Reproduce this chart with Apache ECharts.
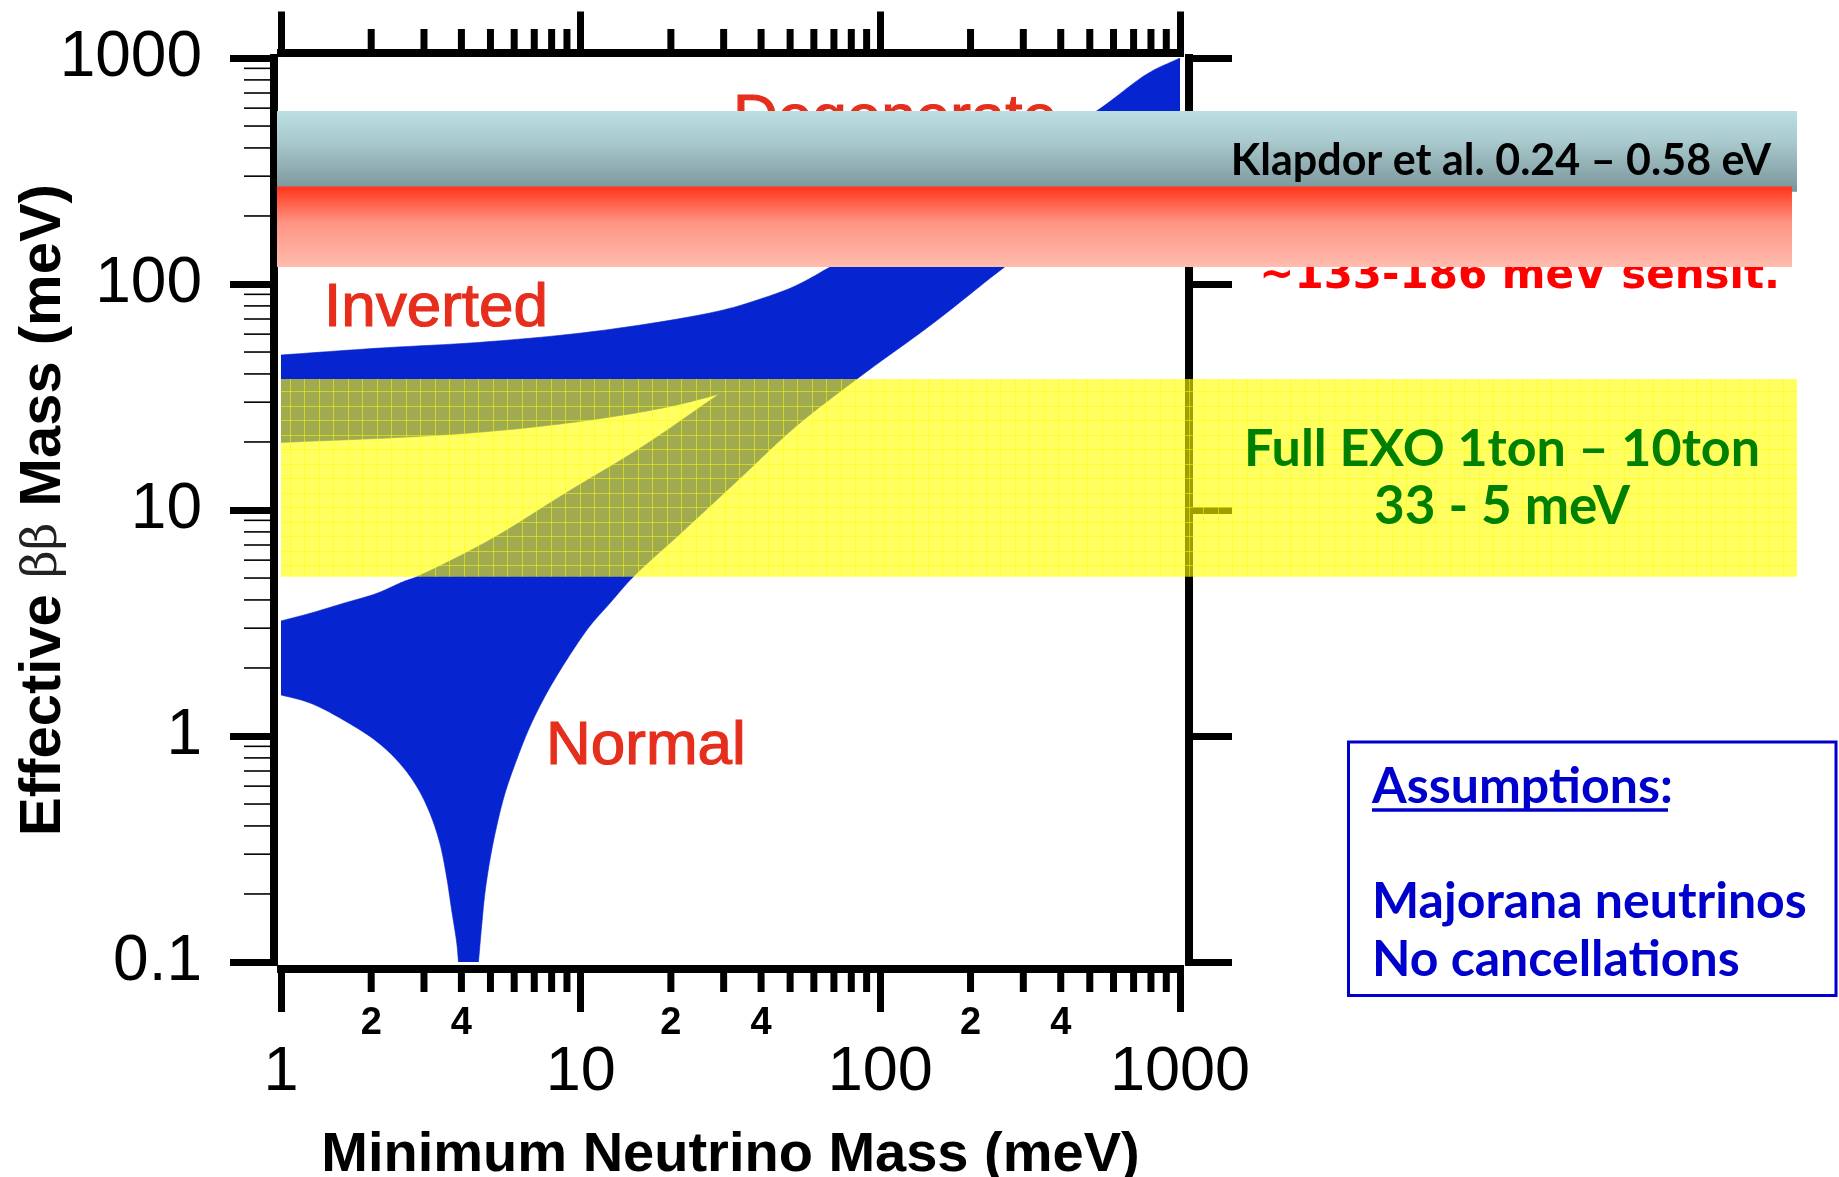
<!DOCTYPE html>
<html>
<head>
<meta charset="utf-8">
<script src="https://cdn.jsdelivr.net/npm/echarts@6/dist/echarts.min.js"></script>
<style>
html,body{margin:0;padding:0;background:#ffffff;}
#chart{width:1839px;height:1177px;}
</style>
</head>
<body>
<div id="chart"></div>
<script>
// ---------------- data (meV) ----------------
const xMajorTicks = [1, 10, 100, 1000];
const yMajorTicks = [0.1, 1, 10, 100, 1000];
const xMinorTicks = [2,3,4,5,6,7,8,9,20,30,40,50,60,70,80,90,200,300,400,500,600,700,800,900];
const yMinorTicks = [0.2,0.3,0.4,0.5,0.6,0.7,0.8,0.9,2,3,4,5,6,7,8,9,20,30,40,50,60,70,80,90,200,300,400,500,600,700,800,900];
const xMinorLabelValues = [2, 4, 20, 40, 200, 400];
const xMinorLabelTexts = ['2', '4', '2', '4', '2', '4'];

// upper boundary of the allowed region (inverted / degenerate)
const upperEdgeM = [1, 2.06, 4.97, 12, 29, 40, 52, 68, 100, 150, 300, 527, 782, 1000];
const upperEdgeV = [48.5, 51.9, 55.6, 62.5, 76, 86, 98, 119, 160, 220, 370, 583, 855, 1000];
// lower boundary of the normal hierarchy band (with the cancellation cusp)
const normalLowM = [1, 1.25, 1.61, 2.09, 2.49, 2.84, 3.14, 3.39, 3.57, 3.71, 3.86, 3.91, 4.56, 4.67, 4.79, 4.98, 5.24, 5.59, 6.11, 6.77, 7.7, 8.98, 10.7, 12.5, 15, 21.6, 33.6, 52.2, 85.5, 150, 260, 500, 1000];
const normalLowV = [1.52, 1.40, 1.18, 0.944, 0.757, 0.597, 0.455, 0.335, 0.238, 0.17, 0.121, 0.1, 0.1, 0.143, 0.201, 0.283, 0.397, 0.557, 0.783, 1.10, 1.545, 2.17, 3.05, 3.86, 5.07, 7.9, 13.6, 23.4, 38.9, 67, 119, 225, 450];
// upper boundary of the normal band (up to where it meets the inverted band)
const normalTopM = [1, 1.25, 1.61, 2.09, 2.56, 2.84, 4.97, 8.93, 16.1, 29];
const normalTopV = [3.23, 3.49, 3.86, 4.28, 4.82, 5.07, 7.36, 11.9, 19.1, 32.6];
// lower boundary of the inverted band
const invertedLowM = [1, 2.76, 5, 8.93, 16.1, 22, 29];
const invertedLowV = [19.9, 21.1, 22.3, 24.2, 27.2, 29.6, 32.6];

// horizontal bands (meV)
const bandNames = ['Klapdor et al.', 'sensitivity', 'Full EXO'];
const bandLow = [256, 119, 5.07];
const bandHigh = [583, 270, 38];

// ---------------- styles ----------------
const BLUE = '#0624d0';
const LABEL_RED = '#e62e1c';
const Y_MIN = 0.1, Y_MAX = 1000, X_MIN = 1, X_MAX = 1000;

function makeGridPattern() {
  const c = document.createElement('canvas');
  c.width = 29; c.height = 29;
  const g = c.getContext('2d');
  g.fillStyle = 'rgba(255,255,0,0.62)';
  g.fillRect(0, 0, 29, 29);
  g.fillStyle = 'rgba(255,255,0,0.5)';
  g.fillRect(0, 0, 1, 29); g.fillRect(14, 0, 1, 29);
  g.fillRect(0, 0, 29, 1); g.fillRect(0, 14, 29, 1);
  return c;
}
const yellowPattern = {image: makeGridPattern(), repeat: 'repeat'};

const bandStyles = [
  {x0: 0, x1: 1, z2: 2, fill: new echarts.graphic.LinearGradient(0, 0, 0, 1, [
    {offset: 0, color: '#badfe2'}, {offset: 0.35, color: '#aacbcf'}, {offset: 1, color: '#79959a'}])},
  {x0: 0, x1: 0.9967, z2: 3, fill: new echarts.graphic.LinearGradient(0, 0, 0, 1, [
    {offset: 0, color: '#ff3418'}, {offset: 0.45, color: '#ff9484'}, {offset: 1, color: '#ffbcae'}])},
  {x0: 0.0026, x1: 1, z2: 1, fill: yellowPattern}
];

const labelFmt = v => String(+Number(v).toPrecision(3));

const FR = {left: 7, right: 9, top: 5.5, bottom: 7, line: 8, tick: 7};

const axisLineStyle = {show: true, onZero: false, lineStyle: {color: '#000', width: FR.line, cap: 'square'}};

// centripetal Catmull-Rom smoothing of an outline given in pixel space (drawing only)
function smoothOutline(pts, steps) {
  if (pts.length < 3) return pts.slice();
  const out = [];
  const n = pts.length;
  const ext = (a, b) => [2 * a[0] - b[0], 2 * a[1] - b[1]];
  const knot = (a, b) => Math.max(Math.pow(Math.hypot(b[0] - a[0], b[1] - a[1]), 0.5), 1e-3);
  const mix = (a, b, ta, tb, t) => {
    const w = (t - ta) / (tb - ta);
    return [a[0] + (b[0] - a[0]) * w, a[1] + (b[1] - a[1]) * w];
  };
  for (let i = 0; i < n - 1; i++) {
    const p1 = pts[i], p2 = pts[i + 1];
    const p0 = i > 0 ? pts[i - 1] : ext(p1, p2);
    const p3 = i + 2 < n ? pts[i + 2] : ext(p2, p1);
    const t0 = 0, t1 = t0 + knot(p0, p1), t2 = t1 + knot(p1, p2), t3 = t2 + knot(p2, p3);
    for (let k = 0; k < steps; k++) {
      const t = t1 + (t2 - t1) * k / steps;
      const A1 = mix(p0, p1, t0, t1, t), A2 = mix(p1, p2, t1, t2, t), A3 = mix(p2, p3, t2, t3, t);
      const B1 = mix(A1, A2, t0, t2, t), B2 = mix(A2, A3, t1, t3, t);
      out.push(mix(B1, B2, t1, t2, t));
    }
  }
  out.push(pts[n - 1]);
  return out;
}

// smooth each run separately, keeping the flat stretch clipped at the axis minimum straight
function smoothBoundary(api, ms, vs, steps) {
  const runs = [[]];
  for (let i = 0; i < ms.length; i++) {
    runs[runs.length - 1].push(api.coord([ms[i], vs[i]]));
    if (i < ms.length - 1 && vs[i] === Y_MIN && vs[i + 1] === Y_MIN) runs.push([]);
  }
  return [].concat(...runs.map(r => smoothOutline(r, steps)));
}

const richLabel = (extra) => Object.assign({align: 'left', verticalAlign: 'middle', textAlign: 'left', textVerticalAlign: 'middle'}, extra);

const option = {
  animation: false,
  backgroundColor: '#ffffff',
  grid: [
    {left: 281, top: 58, width: 899, height: 904, outerBoundsMode: 'none', containLabel: false},
    {left: 277, top: 58, width: 1520, height: 904, outerBoundsMode: 'none', containLabel: false}
  ],
  xAxis: [
    {gridIndex: 0, type: 'log', logBase: 10, min: X_MIN, max: X_MAX, position: 'bottom', offset: FR.bottom,
     axisLine: axisLineStyle,
     axisTick: {show: true, inside: false, length: 43, lineStyle: {color: '#000', width: FR.tick}},
     axisLabel: {show: true, margin: 72, fontSize: 63, fontFamily: 'Liberation Sans', color: '#000',
                 formatter: labelFmt, showMinLabel: true, showMaxLabel: true},
     splitLine: {show: false}, minorTick: {show: false},
     name: 'Minimum Neutrino Mass (meV)', nameLocation: 'middle', nameGap: 159, nameMoveOverlap: false,
     nameTextStyle: {fontSize: 56, fontWeight: 'bold', fontFamily: 'Liberation Sans', color: '#000'}},
    {gridIndex: 0, type: 'log', logBase: 10, min: X_MIN, max: X_MAX, position: 'top', offset: FR.top,
     axisLine: axisLineStyle,
     axisTick: {show: true, inside: false, length: 41, lineStyle: {color: '#000', width: FR.tick}},
     axisLabel: {show: false}, splitLine: {show: false}},
    {gridIndex: 1, type: 'value', min: 0, max: 1, show: false}
  ],
  yAxis: [
    {gridIndex: 0, type: 'log', logBase: 10, min: Y_MIN, max: Y_MAX, position: 'left', offset: FR.left,
     axisLine: axisLineStyle,
     axisTick: {show: true, inside: false, length: 44, lineStyle: {color: '#000', width: FR.tick}},
     axisLabel: {show: true, margin: 72, fontSize: 64, fontFamily: 'Liberation Sans', color: '#000',
                 formatter: labelFmt, showMinLabel: true, showMaxLabel: true},
     splitLine: {show: false},
     name: '{b|Effective }{g|ββ}{b| Mass (meV)}', nameLocation: 'middle', nameRotate: 90, nameGap: 201,
     nameMoveOverlap: false,
     nameTextStyle: {color: '#000', rich: {
       b: {fontSize: 58, fontWeight: 'bold', fontFamily: 'Liberation Sans', color: '#000'},
       g: {fontSize: 48, fontWeight: 'normal', fontFamily: 'DejaVu Serif', color: '#222'}}}},
    {gridIndex: 0, type: 'log', logBase: 10, min: Y_MIN, max: Y_MAX, position: 'right', offset: FR.right,
     axisLine: axisLineStyle,
     axisTick: {show: true, inside: false, length: 43, lineStyle: {color: '#000', width: FR.tick}},
     axisLabel: {show: false}, splitLine: {show: false}},
    {gridIndex: 1, type: 'log', logBase: 10, min: Y_MIN, max: Y_MAX, show: false}
  ],
  series: [
    // allowed-mass region (normal + inverted + degenerate), outline built from the boundary arrays
    {type: 'custom', name: 'allowed region', coordinateSystem: 'cartesian2d', xAxisIndex: 0, yAxisIndex: 0,
     z: 2, silent: true, clip: true, data: [[1, 1]],
     renderItem: function (params, api) {
       const up = smoothBoundary(api, upperEdgeM, upperEdgeV, 10);
       const low = smoothBoundary(api, normalLowM, normalLowV, 10).reverse();
       const ntop = smoothBoundary(api, normalTopM, normalTopV, 10);
       const ilow = smoothBoundary(api, invertedLowM, invertedLowV, 10).reverse();
       const pts = [].concat(up, low, ntop, ilow);
       return {type: 'polygon', shape: {points: pts}, style: {fill: BLUE, stroke: BLUE, lineWidth: 0.6}};
     }},
    // horizontal bands
    {type: 'custom', name: 'bands', coordinateSystem: 'cartesian2d', xAxisIndex: 2, yAxisIndex: 2,
     z: 3, silent: true, clip: false,
     data: bandLow.map((lo, i) => [i, lo, bandHigh[i]]),
     encode: {x: 0, y: [1, 2]},
     renderItem: function (params, api) {
       const i = api.value(0);
       const st = bandStyles[i];
       const p0 = api.coord([st.x0, api.value(2)]);
       const p1 = api.coord([st.x1, api.value(1)]);
       return {type: 'rect', z2: st.z2,
               shape: {x: p0[0], y: p0[1], width: p1[0] - p0[0], height: p1[1] - p0[1]},
               style: {fill: st.fill}};
     }},
    // x minor ticks (top & bottom) with "2" / "4" labels
    {type: 'custom', name: 'x minor ticks', coordinateSystem: 'cartesian2d', xAxisIndex: 0, yAxisIndex: 0,
     z: 1, silent: true, clip: false,
     data: xMinorTicks.map(v => [v, 1]),
     renderItem: function (params, api) {
       const cs = params.coordSys;
       const v = api.value(0);
       const x = api.coord([v, 1])[0];
       const bottom = cs.y + cs.height + FR.bottom;
       const top = cs.y - FR.top;
       const children = [
         {type: 'line', shape: {x1: x, y1: bottom, x2: x, y2: bottom + 23}, style: {stroke: '#000', lineWidth: FR.tick}},
         {type: 'line', shape: {x1: x, y1: top, x2: x, y2: top - 23.5}, style: {stroke: '#000', lineWidth: FR.tick}}
       ];
       const li = xMinorLabelValues.indexOf(v);
       if (li >= 0) {
         children.push({type: 'text', x: x, y: cs.y + cs.height + 62,
           style: {text: xMinorLabelTexts[li], fontSize: 38, fontWeight: 'bold', fontFamily: 'Liberation Sans', fill: '#000',
                   align: 'center', verticalAlign: 'middle', textAlign: 'center', textVerticalAlign: 'middle'}});
       }
       return {type: 'group', children: children};
     }},
    // y minor ticks (left)
    {type: 'custom', name: 'y minor ticks', coordinateSystem: 'cartesian2d', xAxisIndex: 0, yAxisIndex: 0,
     z: 1, silent: true, clip: false,
     data: yMinorTicks.map(v => [1, v]),
     renderItem: function (params, api) {
       const cs = params.coordSys;
       const y = api.coord([1, api.value(1)])[1];
       const x0 = cs.x - FR.left;
       return {type: 'line', shape: {x1: x0, y1: y, x2: x0 - 30, y2: y}, style: {stroke: '#000', lineWidth: 1.6}};
     }}
  ],
  graphic: [
    {type: 'text', x: 733, y: 120, z: 1, silent: true,
     style: richLabel({text: 'Degenerate', fontSize: 62, fontFamily: 'Liberation Sans', fill: LABEL_RED, stroke: LABEL_RED, lineWidth: 1.2})},
    {type: 'text', x: 324, y: 309, z: 1, silent: true,
     style: richLabel({text: 'Inverted', fontSize: 62, fontFamily: 'Liberation Sans', fill: LABEL_RED, stroke: LABEL_RED, lineWidth: 1.2})},
    {type: 'text', x: 546, y: 747, z: 1, silent: true,
     style: richLabel({text: 'Normal', fontSize: 62, fontFamily: 'Liberation Sans', fill: LABEL_RED, stroke: LABEL_RED, lineWidth: 1.2})},
    {type: 'text', x: 1780, y: 277, z: 1, silent: true,
     style: {text: '~133-186 meV sensit.', fontSize: 42, fontWeight: 'bold', fontFamily: 'DejaVu Sans', fill: '#ff0000',
             align: 'right', verticalAlign: 'middle', textAlign: 'right', textVerticalAlign: 'middle'}},
    {type: 'text', x: 1771, y: 161, z: 10, silent: true,
     style: {text: 'Klapdor et al. 0.24 – 0.58 eV', fontSize: 43, fontWeight: 'bold', fontFamily: 'Lato', fill: '#000',
             align: 'right', verticalAlign: 'middle', textAlign: 'right', textVerticalAlign: 'middle'}},
    {type: 'text', x: 1502, y: 449, z: 10, silent: true,
     style: {text: 'Full EXO 1ton – 10ton', fontSize: 52, fontWeight: 'bold', fontFamily: 'Lato', fill: '#008000',
             align: 'center', verticalAlign: 'middle', textAlign: 'center', textVerticalAlign: 'middle'}},
    {type: 'text', x: 1502, y: 507, z: 10, silent: true,
     style: {text: '33 - 5 meV', fontSize: 53, fontWeight: 'bold', fontFamily: 'Lato', fill: '#008000',
             align: 'center', verticalAlign: 'middle', textAlign: 'center', textVerticalAlign: 'middle'}},
    {type: 'rect', z: 9, silent: true,
     shape: {x: 1348.5, y: 742, width: 487.5, height: 253.5},
     style: {fill: '#ffffff', stroke: '#0000cc', lineWidth: 3}},
    {type: 'text', x: 1372, y: 787, z: 10, silent: true,
     style: richLabel({text: 'Assumptions:', fontSize: 50, fontWeight: 'bold', fontFamily: 'Lato', fill: '#0000cc'})},
    {type: 'line', z: 10, silent: true,
     shape: {x1: 1372, y1: 810, x2: 1668, y2: 810}, style: {stroke: '#0000cc', lineWidth: 3.5}},
    {type: 'text', x: 1372, y: 902, z: 10, silent: true,
     style: richLabel({text: 'Majorana neutrinos', fontSize: 50, fontWeight: 'bold', fontFamily: 'Lato', fill: '#0000cc'})},
    {type: 'text', x: 1372, y: 960, z: 10, silent: true,
     style: richLabel({text: 'No cancellations', fontSize: 50, fontWeight: 'bold', fontFamily: 'Lato', fill: '#0000cc'})}
  ]
};

const chart = echarts.init(document.getElementById('chart'), null, {renderer: 'canvas', width: 1839, height: 1177});
chart.setOption(option);
</script>
</body>
</html>
